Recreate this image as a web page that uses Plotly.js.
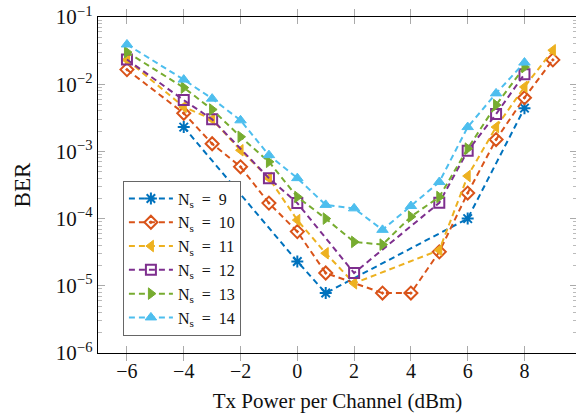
<!DOCTYPE html>
<html>
<head>
<meta charset="utf-8">
<script src="https://cdn.plot.ly/plotly-3.0.1.min.js"></script>
<style>
html,body{margin:0;padding:0;overflow:hidden;background:#fff;width:576px;height:414px;}
#chart{width:580px;height:414px;}
</style>
</head>
<body>
<div id="chart"></div>
<script>
// Data
const seriesNames = ["N<sub>s</sub>  =  9","N<sub>s</sub>  =  10","N<sub>s</sub>  =  11","N<sub>s</sub>  =  12","N<sub>s</sub>  =  13","N<sub>s</sub>  =  14"];

const x9  = [-4, 0, 1, 6, 8];
const y9  = [2.3e-3, 2.3e-5, 7.8e-6, 1.0e-4, 4.4e-3];

const x10 = [-6, -4, -3, -2, -1, 0, 1, 3, 4, 5, 6, 7, 8, 9];
const y10 = [1.65e-2, 3.7e-3, 1.3e-3, 5.9e-4, 1.7e-4, 6.4e-5, 1.55e-5, 7.8e-6, 7.8e-6, 3.2e-5, 2.4e-4, 1.5e-3, 6.3e-3, 2.3e-2];

const x11 = [-6, -4, -3, -2, -1, 0, 1, 2, 5, 6, 7, 8, 9];
const y11 = [2.3e-2, 4.6e-3, 3.0e-3, 1.04e-3, 4.0e-4, 9.5e-5, 3.05e-5, 1.09e-5, 3.4e-5, 4.3e-4, 2.3e-3, 9.1e-3, 3.2e-2];

const x12 = [-6, -4, -3, -1, 0, 2, 5, 6, 7, 8];
const y12 = [2.33e-2, 5.8e-3, 3.0e-3, 4.0e-4, 1.7e-4, 1.55e-5, 1.72e-4, 1.02e-3, 3.6e-3, 1.41e-2];

const x13 = [-6, -4, -3, -2, -1, 0, 1, 2, 3, 4, 5, 6, 7, 8];
const y13 = [3.0e-2, 8.9e-3, 4.2e-3, 1.65e-3, 7.0e-4, 2.1e-4, 1.0e-4, 4.5e-5, 4.1e-5, 1.07e-4, 2.1e-4, 1.1e-3, 4.9e-3, 1.8e-2];

const x14 = [-6, -4, -3, -2, -1, 0, 1, 2, 3, 4, 5, 6, 7, 8];
const y14 = [3.9e-2, 1.17e-2, 6.1e-3, 2.9e-3, 8.8e-4, 4.0e-4, 1.6e-4, 1.42e-4, 6.8e-5, 1.54e-4, 3.5e-4, 2.3e-3, 7.3e-3, 2.1e-2];

const xTicks = [-6, -4, -2, 0, 2, 4, 6, 8];
const yTickVals = [1e-6, 1e-5, 1e-4, 1e-3, 1e-2, 1e-1];
const yTickText = ["10<sup>−6</sup>","10<sup>−5</sup>","10<sup>−4</sup>","10<sup>−3</sup>","10<sup>−2</sup>","10<sup>−1</sup>"];

// minor tick positions for the log axis (2..9 within each decade)
const yMinorVals = [];
for (let e = -6; e < -1; e++) {
  for (let m = 2; m <= 9; m++) yMinorVals.push(m * Math.pow(10, e));
}

const colors = ["#0072BD","#D95319","#EDB120","#7E2F8E","#77AC30","#4DBEEE"];
const symbols = ["asterisk-open","diamond-open-dot","triangle-left","square-open","triangle-right","triangle-up"];
const xs = [x9, x10, x11, x12, x13, x14];
const ys = [y9, y10, y11, y12, y13, y14];

const traces = xs.map((xv, i) => ({
  x: xv, y: ys[i], name: seriesNames[i],
  type: "scatter", mode: "lines+markers",
  line: {color: colors[i], width: 2, dash: "6px,4px"},
  marker: {symbol: symbols[i], size: 10, color: colors[i],
           line: {color: colors[i], width: (i === 0 || i === 1 || i === 3) ? 2 : 1}}
}));
// invisible helper trace so the minor-tick axis is drawn
traces.push({x: [null], y: [null], yaxis: "y2", showlegend: false, hoverinfo: "skip", mode: "markers"});

const serif = "Liberation Serif, DejaVu Serif, serif";

const layout = {
  width: 580, height: 414,
  margin: {l: 98, r: 3, t: 17, b: 61},
  paper_bgcolor: "#fff", plot_bgcolor: "#fff",
  showlegend: true,
  font: {family: serif, color: "#111", size: 17},
  xaxis: {
    range: [-7.02, 9.85],
    tickvals: xTicks,
    ticks: "inside", ticklen: 7, tickcolor: "#aaa", tickwidth: 1,
    showline: true, linecolor: "#000", linewidth: 1.3, mirror: "allticks",
    showgrid: false, zeroline: false,
    tickfont: {family: serif, size: 20, color: "#111"},
    title: {text: "Tx Power per Channel (dBm)", font: {family: serif, size: 21, color: "#111"}, standoff: 12}
  },
  yaxis: {
    type: "log",
    range: [-6, -1],
    tickvals: yTickVals, ticktext: yTickText,
    ticks: "inside", ticklen: 7, tickcolor: "#aaa", tickwidth: 1,
    showline: true, linecolor: "#000", linewidth: 1.3, mirror: "allticks",
    showgrid: false, zeroline: false,
    tickfont: {family: serif, size: 21, color: "#111"},
    title: {text: "BER", font: {family: serif, size: 23, color: "#111"}, standoff: 18}
  },
  yaxis2: {
    type: "log", overlaying: "y", side: "left",
    range: [-6, -1],
    tickvals: yMinorVals, showticklabels: false,
    ticks: "inside", ticklen: 4, tickcolor: "#bbb", tickwidth: 1,
    showline: true, linecolor: "#000", linewidth: 1.3, mirror: "allticks",
    showgrid: false, zeroline: false
  },
  legend: {
    x: 0.052, y: 0.052, xanchor: "left", yanchor: "bottom",
    bgcolor: "#fff", bordercolor: "#666", borderwidth: 1,
    font: {family: serif, size: 16, color: "#111"},
    itemwidth: 44,
    tracegroupgap: 0
  }
};

Plotly.newPlot("chart", traces, layout, {displayModeBar: false, staticPlot: true});
</script>
</body>
</html>
